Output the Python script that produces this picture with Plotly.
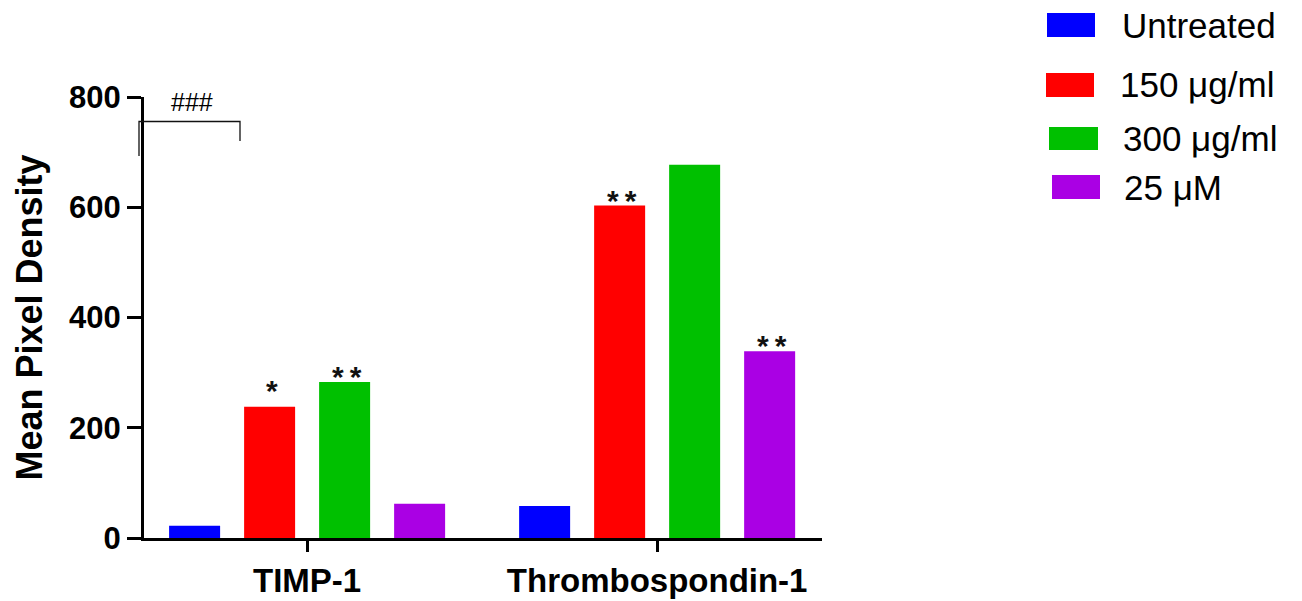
import plotly.graph_objects as go

# ---------------- data ----------------
categories = ["TIMP-1", "Thrombospondin-1"]
series_names = ["Untreated", "150 μg/ml", "300 μg/ml", "25 μM"]
untreated = [22, 58]
dose_150 = [238, 603]
dose_300 = [283, 677]
dose_25uM = [62, 339]
y_ticks = [0, 200, 400, 600, 800]
# significance marks: (category index, series index, label)
sig_cat = [0, 0, 1, 1]
sig_series = [1, 2, 1, 3]
sig_text = ["*", "**", "**", "**"]
bracket_label = "###"

# ---------------- style ----------------
colors = ["#0000FF", "#FF0000", "#00C000", "#AA00E4"]
FONT = "Arial, Liberation Sans, sans-serif"
W, H = 1302, 601
L, R, T, B = 144, 480, 97, 63
slot = 75 / 350      # spacing between bar centres (category units)
bw = 51 / 350        # bar width

values = [untreated, dose_150, dose_300, dose_25uM]
xs = list(range(len(categories)))

fig = go.Figure()
for k, (name, vals) in enumerate(zip(series_names, values)):
    centre = (k - 1.5) * slot
    fig.add_trace(go.Bar(
        x=xs, y=vals, name=name,
        width=bw, offset=centre - bw / 2,
        marker=dict(color=colors[k], line=dict(width=0)),
        showlegend=False,
    ))

annotations = []
star_shift = {"*": -2, "**": -13}
for c, s, t in zip(sig_cat, sig_series, sig_text):
    annotations.append(dict(
        x=xs[c] + (s - 1.5) * slot, y=values[s][c], xref="x", yref="y",
        text="<b>" + "\u2009".join(t) + "</b>", showarrow=False, yanchor="bottom", xanchor="center",
        xshift=2, yshift=star_shift[t], font=dict(family=FONT, size=30, color="#111111"),
    ))

# helper: pixel -> paper
def px(xp):
    return (xp - L) / (W - L - R)

def py(yp):
    return (H - B - yp) / (H - T - B)

# bracket with ###
shapes = [dict(type="path", xref="paper", yref="paper",
               path=f"M {px(139)} {py(156)} L {px(139)} {py(121.5)} L {px(240)} {py(121.5)} L {px(240)} {py(141)}",
               line=dict(color="#111111", width=1.3))]
annotations.append(dict(x=px(192), y=py(102), xref="paper", yref="paper",
                        text=bracket_label, showarrow=False, xanchor="center", yanchor="middle",
                        font=dict(family=FONT, size=25, color="#000000")))

# custom legend
legend_boxes = [(1047, 1095, 13, 37), (1046, 1094, 73, 97), (1049, 1098, 127, 150), (1052, 1100, 175, 199)]
legend_text_x = [1120, 1118, 1121, 1122]
for k, name in enumerate(series_names):
    x0, x1, y0, y1 = legend_boxes[k]
    shapes.append(dict(type="rect", xref="paper", yref="paper",
                       x0=px(x0), x1=px(x1), y0=py(y1), y1=py(y0),
                       fillcolor=colors[k], line=dict(width=0)))
    annotations.append(dict(x=px(legend_text_x[k]), y=py((y0 + y1) / 2), xref="paper", yref="paper",
                            text=name, showarrow=False, xanchor="left", yanchor="middle",
                            font=dict(family=FONT, size=35, color="#000000")))

fig.update_layout(
    width=W, height=H,
    margin=dict(l=L, r=R, t=T, b=B, pad=0, autoexpand=False),
    paper_bgcolor="white", plot_bgcolor="white",
    barmode="overlay",
    showlegend=False,
    shapes=shapes, annotations=annotations,
    font=dict(family=FONT, color="#000000"),
)
fig.update_xaxes(
    range=[-0.466, 1.471], tickvals=xs, ticktext=[f"<b>{c}</b>" for c in categories],
    showline=True, linecolor="#000000", linewidth=3,
    ticks="outside", ticklen=11, tickwidth=3, tickcolor="#000000",
    tickfont=dict(family=FONT, size=33, color="#000000"),
    showgrid=False, zeroline=False, automargin=False,
)
fig.update_yaxes(
    range=[0, 800], tickvals=y_ticks, ticktext=[f"<b>{v}</b>" for v in y_ticks],
    showline=True, linecolor="#000000", linewidth=3,
    ticks="outside", ticklen=14, tickwidth=3, tickcolor="#000000",
    tickfont=dict(family=FONT, size=31, color="#000000"),
    title=dict(text="<b>Mean Pixel Density</b>", font=dict(family=FONT, size=36, color="#000000"), standoff=16),
    showgrid=False, zeroline=False, automargin=False,
)

fig.write_html("out.html")
